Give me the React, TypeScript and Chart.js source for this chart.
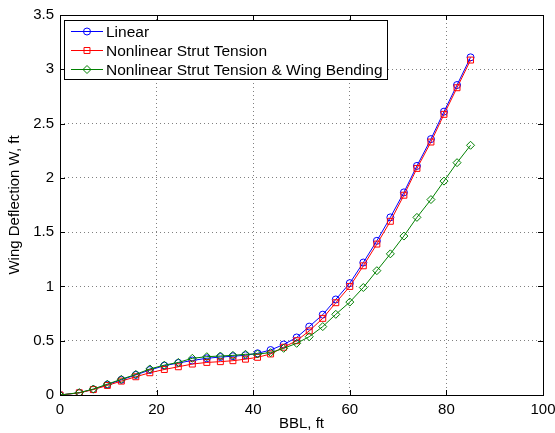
import React, { useEffect, useRef } from "react";
import { Chart, registerables } from "chart.js";

Chart.register(...registerables);

const bbl = [0, 4.0, 6.9, 9.8, 12.7, 15.7, 18.6, 21.6, 24.5, 27.4, 30.4, 33.2, 35.8, 38.4, 40.9, 43.6, 46.3, 49.0, 51.6, 54.4, 57.1, 60.0, 62.8, 65.6, 68.4, 71.2, 73.9, 76.8, 79.5, 82.2, 85.0];
const linear = [0, 0.02, 0.052, 0.095, 0.14, 0.185, 0.23, 0.27, 0.295, 0.318, 0.338, 0.35, 0.357, 0.366, 0.384, 0.414, 0.465, 0.53, 0.63, 0.74, 0.88, 1.03, 1.22, 1.42, 1.636, 1.866, 2.11, 2.357, 2.61, 2.855, 3.11];
const nonlinearStrut = [0, 0.02, 0.05, 0.088, 0.128, 0.168, 0.205, 0.235, 0.26, 0.285, 0.3, 0.307, 0.316, 0.33, 0.347, 0.378, 0.44, 0.5, 0.59, 0.706, 0.85, 1.0, 1.19, 1.39, 1.6, 1.84, 2.087, 2.33, 2.585, 2.83, 3.085];
const nonlinearBending = [0, 0.022, 0.055, 0.1, 0.145, 0.19, 0.24, 0.275, 0.3, 0.338, 0.353, 0.359, 0.365, 0.375, 0.378, 0.39, 0.43, 0.476, 0.537, 0.63, 0.743, 0.856, 0.99, 1.145, 1.3, 1.464, 1.636, 1.8, 1.97, 2.14, 2.3];

const seriesNames = ["Linear", "Nonlinear Strut Tension", "Nonlinear Strut Tension & Wing Bending"];
const seriesColors = ["#0000ff", "#ff0000", "#008000"];
const seriesMarkers = ["circle", "rect", "rectRot"];
const xTicks = [0, 20, 40, 60, 80, 100];
const yTicks = [0, 0.5, 1, 1.5, 2, 2.5, 3, 3.5];
const xTitle = "BBL, ft";
const yTitle = "Wing Deflection W, ft";

const FONT = "'Liberation Sans', Arial, Helvetica, sans-serif";
const FS = 15;
const LEGEND_FS = 15.5;

function markerRadius(style: string) {
  return style === "rectRot" ? 4 : style === "rect" ? 4.2 : 3.5;
}

function drawMarker(ctx: CanvasRenderingContext2D, style: string, x: number, y: number, r: number) {
  ctx.beginPath();
  if (style === "circle") {
    ctx.arc(x, y, r, 0, Math.PI * 2);
  } else if (style === "rect") {
    const s = r * Math.SQRT1_2;
    ctx.rect(x - s, y - s, 2 * s, 2 * s);
  } else {
    ctx.moveTo(x - r, y);
    ctx.lineTo(x, y - r);
    ctx.lineTo(x + r, y);
    ctx.lineTo(x, y + r);
    ctx.closePath();
  }
  ctx.stroke();
}

const framePlugin = {
  id: "matlabFrame",
  afterDatasetsDraw(chart: any) {
    const { ctx, chartArea } = chart;
    const { left, right, top, bottom } = chartArea;
    const xs = chart.scales.x;
    const ys = chart.scales.y;
    ctx.save();
    ctx.strokeStyle = "#000";
    ctx.lineWidth = 1;
    ctx.strokeRect(Math.round(left) + 0.5, Math.round(top) + 0.5, Math.round(right - left), Math.round(bottom - top));
    const tl = 5;
    ctx.beginPath();
    xTicks.forEach((v) => {
      const px = Math.round(xs.getPixelForValue(v)) + 0.5;
      ctx.moveTo(px, bottom);
      ctx.lineTo(px, bottom - tl);
      ctx.moveTo(px, top);
      ctx.lineTo(px, top + tl);
    });
    yTicks.forEach((v) => {
      const py = Math.round(ys.getPixelForValue(v)) + 0.5;
      ctx.moveTo(left, py);
      ctx.lineTo(left + tl, py);
      ctx.moveTo(right, py);
      ctx.lineTo(right - tl, py);
    });
    ctx.stroke();

    // legend
    const bx = 64.5, by = 20.5, bw = 323, bh = 59;
    ctx.fillStyle = "#fff";
    ctx.fillRect(bx, by, bw, bh);
    ctx.strokeStyle = "#000";
    ctx.strokeRect(bx, by, bw, bh);
    ctx.font = `${LEGEND_FS}px ${FONT}`;
    ctx.textBaseline = "middle";
    ctx.textAlign = "left";
    const rows = [31.5, 50.5, 69.5];
    seriesNames.forEach((name, i) => {
      const y = rows[i];
      ctx.strokeStyle = seriesColors[i];
      ctx.lineWidth = 1;
      ctx.beginPath();
      ctx.moveTo(71, y);
      ctx.lineTo(103, y);
      ctx.stroke();
      drawMarker(ctx, seriesMarkers[i], 87, y, markerRadius(seriesMarkers[i]));
      ctx.fillStyle = "#000";
      ctx.fillText(name, 106, y + 1);
    });
    ctx.restore();
  },
};

export default function App() {
  const ref = useRef<HTMLCanvasElement | null>(null);
  useEffect(() => {
    if (!ref.current) return;
    const mk = (i: number, values: number[], order: number) => ({
      label: seriesNames[i],
      data: bbl.map((x, k) => ({ x, y: values[k] })),
      borderColor: seriesColors[i],
      backgroundColor: "rgba(0,0,0,0)",
      pointBackgroundColor: "rgba(0,0,0,0)",
      pointBorderColor: seriesColors[i],
      pointStyle: seriesMarkers[i] as any,
      pointRadius: markerRadius(seriesMarkers[i]),
      pointBorderWidth: 1,
      borderWidth: 1,
      tension: 0,
      order,
    });
    const chart = new Chart(ref.current, {
      type: "line",
      data: {
        datasets: [mk(0, linear, 3), mk(1, nonlinearStrut, 2), mk(2, nonlinearBending, 1)],
      },
      plugins: [framePlugin],
      options: {
        responsive: false,
        animation: false,
        layout: { padding: { left: 0, right: 12, top: 15, bottom: 0 } },
        plugins: { legend: { display: false }, tooltip: { enabled: false } },
        scales: {
          x: {
            type: "linear",
            min: 0,
            max: 100,
            afterFit: (s: any) => { s.height = 38; s.paddingLeft = 0; s.paddingRight = 0; },
            afterBuildTicks: (s: any) => { s.ticks = xTicks.map((v) => ({ value: v })); },
            ticks: {
              color: "#000",
              font: { family: FONT, size: FS },
              padding: 6,
              maxRotation: 0,
              callback: (v: any) => String(v),
            },
            grid: { color: "#808080", drawTicks: false },
            border: { display: false, dash: [1, 3] },
            title: { display: true, text: xTitle, color: "#000", font: { family: FONT, size: FS }, padding: { top: 0, bottom: 0 } },
          },
          y: {
            type: "linear",
            min: 0,
            max: 3.5,
            afterFit: (s: any) => { s.width = 60; s.paddingTop = 0; s.paddingBottom = 0; },
            afterBuildTicks: (s: any) => { s.ticks = yTicks.map((v) => ({ value: v })); },
            ticks: {
              color: "#000",
              font: { family: FONT, size: FS },
              padding: 6,
              callback: (v: any) => String(v),
            },
            grid: { color: "#808080", drawTicks: false },
            border: { display: false, dash: [1, 3] },
            title: { display: true, text: yTitle, color: "#000", font: { family: FONT, size: FS }, padding: { top: 6, bottom: 0 } },
          },
        },
      },
    } as any);
    return () => chart.destroy();
  }, []);
  return (
    <div style={{ position: "fixed", left: 0, top: 0, width: 555, height: 433, background: "#fff" }}>
      <canvas ref={ref} width={555} height={433} style={{ width: 555, height: 433 }} />
    </div>
  );
}
